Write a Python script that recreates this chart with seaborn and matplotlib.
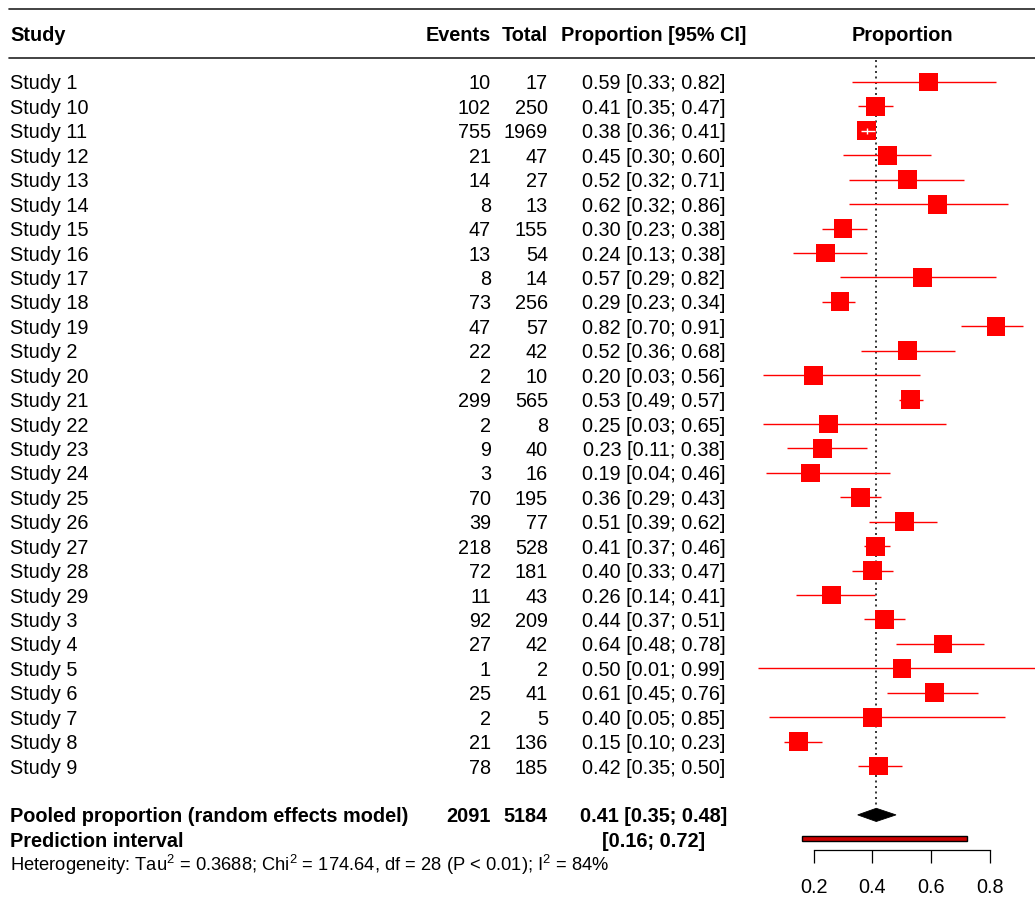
import numpy as np
import pandas as pd
import matplotlib
matplotlib.use("Agg")
import matplotlib.pyplot as plt
import seaborn as sns
from matplotlib.transforms import blended_transform_factory
from matplotlib.patches import Polygon, Rectangle

# ---------------- data ----------------
studies = ["Study 1", "Study 10", "Study 11", "Study 12", "Study 13", "Study 14",
           "Study 15", "Study 16", "Study 17", "Study 18", "Study 19", "Study 2",
           "Study 20", "Study 21", "Study 22", "Study 23", "Study 24", "Study 25",
           "Study 26", "Study 27", "Study 28", "Study 29", "Study 3", "Study 4",
           "Study 5", "Study 6", "Study 7", "Study 8", "Study 9"]
events = [10, 102, 755, 21, 14, 8, 47, 13, 8, 73, 47, 22, 2, 299, 2, 9, 3, 70,
          39, 218, 72, 11, 92, 27, 1, 25, 2, 21, 78]
totals = [17, 250, 1969, 47, 27, 13, 155, 54, 14, 256, 57, 42, 10, 565, 8, 40, 16,
          195, 77, 528, 181, 43, 209, 42, 2, 41, 5, 136, 185]
props = [0.59, 0.41, 0.38, 0.45, 0.52, 0.62, 0.30, 0.24, 0.57, 0.29, 0.82, 0.52,
         0.20, 0.53, 0.25, 0.23, 0.19, 0.36, 0.51, 0.41, 0.40, 0.26, 0.44, 0.64,
         0.50, 0.61, 0.40, 0.15, 0.42]
lower = [0.33, 0.35, 0.36, 0.30, 0.32, 0.32, 0.23, 0.13, 0.29, 0.23, 0.70, 0.36,
         0.03, 0.49, 0.03, 0.11, 0.04, 0.29, 0.39, 0.37, 0.33, 0.14, 0.37, 0.48,
         0.01, 0.45, 0.05, 0.10, 0.35]
upper = [0.82, 0.47, 0.41, 0.60, 0.71, 0.86, 0.38, 0.38, 0.82, 0.34, 0.91, 0.68,
         0.56, 0.57, 0.65, 0.38, 0.46, 0.43, 0.62, 0.46, 0.47, 0.41, 0.51, 0.78,
         0.99, 0.76, 0.85, 0.23, 0.50]

pooled_label = "Pooled proportion (random effects model)"
pooled_events = 2091
pooled_total = 5184
pooled_est = 0.413
pooled_text = "0.41 [0.35; 0.48]"
pooled_lo = 0.35
pooled_hi = 0.48
pred_label = "Prediction interval"
pred_lo = 0.16
pred_hi = 0.72
pred_text = "[0.16; 0.72]"
het_text = ("Heterogeneity: Tau$^2$ = 0.3688; Chi$^2$ = 174.64, df = 28 "
            "(P < 0.01); I$^2$ = 84%")
header_cols = ["Study", "Events", "Total", "Proportion [95% CI]", "Proportion"]
xticks = [0.2, 0.4, 0.6, 0.8]

# ---------------- style ----------------
sns.set_theme(style="white")
plt.rcParams["font.family"] = ["Liberation Sans", "DejaVu Sans"]
plt.rcParams["mathtext.fontset"] = "custom"
plt.rcParams["mathtext.rm"] = "Liberation Sans"
plt.rcParams["mathtext.it"] = "Liberation Sans"
plt.rcParams["mathtext.default"] = "regular"

FS = 14.3
W, H = 1035, 897
fig = plt.figure(figsize=(W / 100, H / 100), dpi=100)
fig.patch.set_facecolor("white")
ax = fig.add_axes([740 / W, 47 / H, 295 / W, 850 / H])
ax.set_facecolor("white")

df = pd.DataFrame(dict(study=studies, ev=events, n=totals, p=props,
                       lo=lower, hi=upper))
df["row"] = np.arange(1, len(df) + 1)

# confidence interval lines
ax.hlines(df["row"], df["lo"], df["hi"], color="#FF0000", lw=1.0, zorder=2)
# squares
sns.scatterplot(data=df, x="p", y="row", marker="s", s=182, color="#FF0000",
                edgecolor="none", linewidth=0, ax=ax, legend=False, zorder=3)
# CI inside box drawn in white
half = 9.25 / 294.5
inside = df[((df["p"] - df["lo"]) < half) & ((df["hi"] - df["p"]) < half)]
ax.hlines(inside["row"], inside["lo"], inside["hi"], color="white", lw=1.0, zorder=4)
ax.plot(inside["p"], inside["row"], marker="|", ms=5, mew=1.0, color="white",
        ls="none", zorder=4)

pooled_row = len(df) + 2
pred_row = pooled_row + 1
het_row = pred_row + 1

# diamond
h = 0.27
ax.add_patch(Polygon([(pooled_lo, pooled_row), (pooled_est, pooled_row - h),
                      (pooled_hi, pooled_row), (pooled_est, pooled_row + h)],
                     closed=True, facecolor="black", edgecolor="black", lw=0.6,
                     zorder=3))
# prediction interval bar
hh = 0.1
ax.add_patch(Rectangle((pred_lo, pred_row - 0.03 - hh), pred_hi - pred_lo, 2 * hh,
                       facecolor="#CC0000", edgecolor="black", lw=1.0, zorder=3))
# dotted line at pooled estimate
ax.vlines(pooled_est, 0.1, pooled_row - h, color="black", lw=1.1,
          linestyles=(0, (1.3, 2.3)), zorder=1)

ax.set_xlim(-0.0497, 0.952)
ax.set_ylim(32.437, -2.3565)
ax.set_xlabel("")
ax.set_ylabel("")
ax.set_yticks([])
ax.set_xticks(xticks)
ax.set_xticklabels([f"{t:.1f}" for t in xticks])
for s in ["top", "left", "right"]:
    ax.spines[s].set_visible(False)
ax.spines["bottom"].set_bounds(0.2, 0.8)
ax.spines["bottom"].set_color("black")
ax.spines["bottom"].set_linewidth(0.9)
ax.tick_params(axis="x", bottom=True, direction="out", length=9.4, width=0.9,
               color="black", labelsize=FS, pad=10.5, labelcolor="black")

# ---------------- table text ----------------
tr = blended_transform_factory(fig.transFigure, ax.transData)
X_STUDY, X_EV, X_TOT, X_CI, X_PLOT = 10 / W, 491 / W, 548 / W, 654 / W, 902 / W
kw = dict(transform=tr, va="center_baseline", fontsize=FS, color="black")

hdr_row = -0.98
ax.text(X_STUDY, hdr_row, header_cols[0], ha="left", fontweight="bold", **kw)
ax.text(X_EV, hdr_row, header_cols[1], ha="right", fontweight="bold", **kw)
ax.text(X_TOT, hdr_row, header_cols[2], ha="right", fontweight="bold", **kw)
ax.text(X_CI, hdr_row, header_cols[3], ha="center", fontweight="bold", **kw)
ax.text(X_PLOT, hdr_row, header_cols[4], ha="center", fontweight="bold", **kw)

for _, r in df.iterrows():
    ax.text(X_STUDY, r["row"], r["study"], ha="left", **kw)
    ax.text(X_EV, r["row"], f"{int(r['ev'])}", ha="right", **kw)
    ax.text(X_TOT, r["row"], f"{int(r['n'])}", ha="right", **kw)
    ax.text(X_CI, r["row"], f"{r['p']:.2f} [{r['lo']:.2f}; {r['hi']:.2f}]",
            ha="center", **kw)

ax.text(X_STUDY, pooled_row, pooled_label, ha="left", fontweight="bold", **kw)
ax.text(X_EV, pooled_row, f"{pooled_events}", ha="right", fontweight="bold", **kw)
ax.text(X_TOT, pooled_row, f"{pooled_total}", ha="right", fontweight="bold", **kw)
ax.text(X_CI, pooled_row, pooled_text, ha="center", fontweight="bold", **kw)
ax.text(X_STUDY, pred_row, pred_label, ha="left", fontweight="bold", **kw)
ax.text(X_CI, pred_row, pred_text, ha="center", fontweight="bold", **kw)
kw_small = dict(kw)
kw_small["fontsize"] = 13.2
ax.text(X_STUDY, het_row - 0.08, het_text, ha="left", **kw_small)

# horizontal rules
for yr in [-1.968, 0.0176]:
    ax.plot([9 / W, 1.0], [yr, yr], transform=tr, color="#222222", lw=1.2,
            clip_on=False)

fig.savefig("out.png", dpi=100, facecolor="white")
